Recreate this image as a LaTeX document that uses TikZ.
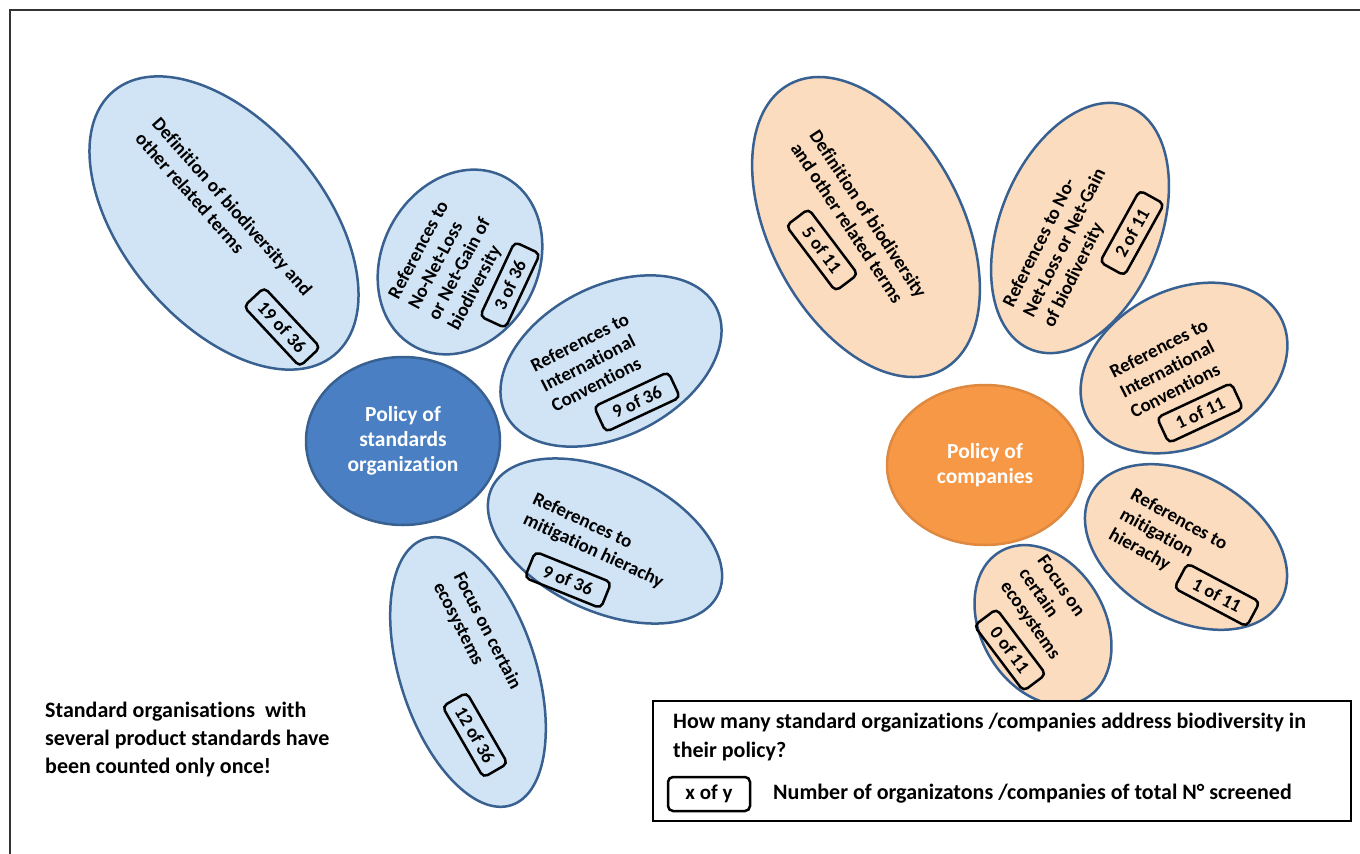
\documentclass[tikz,border=0pt]{standalone}
\usepackage{fontspec}
\setmainfont{Carlito}[Ligatures=NoCommon]
\usetikzlibrary{shapes.geometric}
\definecolor{lblue}{RGB}{209,228,245}
\definecolor{dblue}{RGB}{74,128,195}
\definecolor{edgeblue}{RGB}{56,96,145}
\definecolor{peach}{RGB}{251,220,190}
\definecolor{orangec}{RGB}{247,152,70}
\begin{document}
\begin{tikzpicture}[x=1pt,y=-1pt,
  petal/.style={ellipse, draw=edgeblue, line width=2.5pt, inner sep=0pt},
  bpetal/.style={petal, fill=lblue},
  opetal/.style={petal, fill=peach},
  ptext/.style={font=\bfseries\fontsize{19}{22.5}\selectfont, align=left, inner sep=0pt},
  cntbox/.style={draw=black, line width=2.5pt, rounded corners=5pt, minimum width=82pt, minimum height=28pt, inner sep=0pt, font=\bfseries\fontsize{18.5}{20}\selectfont},
  core/.style={ellipse, inner sep=0pt, text=white, font=\bfseries\fontsize{21.5}{25}\selectfont, align=center, line width=2.5pt},
  plain/.style={font=\bfseries\fontsize{22}{28}\selectfont, align=left, inner sep=0pt, anchor=west}]
\useasboundingbox (0,0) rectangle (1360,854);
\fill[white] (0,0) rectangle (1360,854);
\draw[line width=1.5pt, black!80] (10,854) -- (10,10) -- (1360,10);

% left flower
\node[bpetal, minimum width=344pt, minimum height=200pt, rotate=-50] (pL1) at (224,223) {};
\node[bpetal, minimum width=192pt, minimum height=156pt, rotate=62] (pL2) at (460,262) {};
\node[bpetal, minimum width=236pt, minimum height=150pt, rotate=27] (pL3) at (611,361) {};
\node[bpetal, minimum width=250pt, minimum height=140pt, rotate=-25] (pL4) at (605,541) {};
\node[bpetal, minimum width=280pt, minimum height=136pt, rotate=-72] (pL5) at (468,672) {};

\node[ptext, rotate=-48.5] (tL1) at (224,214) {Definition of biodiversity and\\other related terms};
\node[cntbox, rotate=-47] (cL1) at (282,327) {19 of 36};
\node[ptext, rotate=62] (tL2) at (450,264) {References to\\No-Net-Loss\\or Net-Gain of\\biodiversity};
\node[cntbox, rotate=65] (cL2) at (510,285) {3 of 36};
\node[ptext, rotate=27] (tL3) at (590,362) {References to\\International\\Conventions};
\node[cntbox, rotate=25] (cL3) at (637,402) {9 of 36};
\node[ptext, rotate=-25] (tL4) at (598,541) {References to\\mitigation hierachy};
\node[cntbox, rotate=-22] (cL4) at (568,580) {9 of 36};
\node[ptext, rotate=-63] (tL5) at (477,636) {Focus on certain\\ecosystems};
\node[cntbox, rotate=-60] (cL5) at (475,735) {12 of 36};

\node[core, fill=dblue, draw=edgeblue, minimum width=194pt, minimum height=168pt] (cenL) at (403,441) {Policy of\\standards\\organization};

% right flower
\node[opetal, minimum width=324pt, minimum height=192pt, rotate=-62] (pR1) at (866,227) {};
\node[opetal, minimum width=262pt, minimum height=160pt, rotate=68] (pR2) at (1080,228) {};
\node[opetal, minimum width=218pt, minimum height=156pt, rotate=27] (pR3) at (1184,368) {};
\node[opetal, minimum width=218pt, minimum height=144pt, rotate=-30] (pR4) at (1186,547) {};
\node[opetal, minimum width=170pt, minimum height=124pt, rotate=-60] (pR5) at (1043,625) {};

\node[ptext, rotate=-56.5] (tR1) at (859,220) {Definition of biodiversity\\and other related terms};
\node[cntbox, rotate=-53] (cR1) at (822,250) {5 of 11};
\node[ptext, rotate=63.5] (tR2) at (1065,243) {References to No-\\Net-Loss or Net-Gain\\of biodiversity};
\node[cntbox, rotate=61] (cR2) at (1132,233) {2 of 11};
\node[ptext, rotate=27] (tR3) at (1169,368) {References to\\International\\Conventions};
\node[cntbox, rotate=25] (cR3) at (1200,413) {1 of 11};
\node[ptext, rotate=-29] (tR4) at (1168,540) {References to\\mitigation\\hierachy};
\node[cntbox, rotate=-28] (cR4) at (1217,595) {1 of 11};
\node[ptext, rotate=-55] (tR5) at (1048,608) {Focus on\\certain\\ecosystems};
\node[cntbox, rotate=-53] (cR5) at (1010,650) {0 of 11};

\node[core, fill=orangec, draw=orangec!90!black, minimum width=196pt, minimum height=160pt] (cenR) at (985,465) {Policy of\\companies};

% legend
\node[draw=black, line width=2pt, fill=white, minimum width=698pt, minimum height=120pt, anchor=north west, inner sep=0pt] (legend) at (652,700) {};
\node[plain, font=\bfseries\fontsize{22}{29}\selectfont] (legq) at (673,737) {How many standard organizations /companies address biodiversity in\\their policy?};
\node[cntbox, minimum width=82pt, minimum height=34pt, font=\bfseries\fontsize{21}{24}\selectfont] (legbox) at (709,794) {x of y};
\node[plain] (legtxt) at (773,794) {Number of organizatons /companies of total N° screened};

% note
\node[plain] (note) at (45,740) {Standard organisations\ \ with\\several product standards have\\been counted only once!};
\end{tikzpicture}
\end{document}
